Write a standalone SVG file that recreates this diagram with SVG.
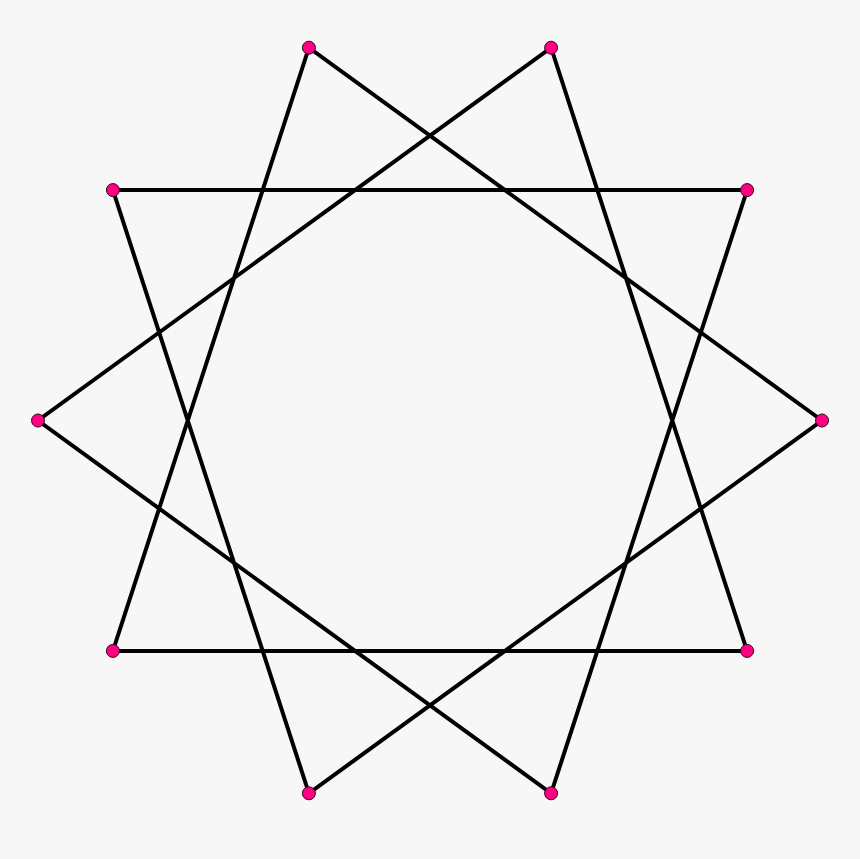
<svg xmlns="http://www.w3.org/2000/svg" width="860" height="859" viewBox="0 0 860 859">
<style>
.edge{fill:none;stroke:#000;stroke-width:4;stroke-linejoin:miter}
.v{fill:#ff0080;stroke:#3a0020;stroke-width:1}
</style>
<rect width="860" height="859" fill="#f7f7f7"/>
<g id="connectors">
<polygon class="edge" points="822,420.5 308.9,47.7 112.9,650.9 747.1,650.9 551.1,47.7 38,420.5 551.1,793.3 747.1,190.1 112.9,190.1 308.9,793.3"/>
</g>
<g id="v0"><circle class="v" cx="822" cy="420.5" r="6.5"/></g>
<g id="v1"><circle class="v" cx="747.1" cy="190.1" r="6.5"/></g>
<g id="v2"><circle class="v" cx="551.1" cy="47.7" r="6.5"/></g>
<g id="v3"><circle class="v" cx="308.9" cy="47.7" r="6.5"/></g>
<g id="v4"><circle class="v" cx="112.9" cy="190.1" r="6.5"/></g>
<g id="v5"><circle class="v" cx="38" cy="420.5" r="6.5"/></g>
<g id="v6"><circle class="v" cx="112.9" cy="650.9" r="6.5"/></g>
<g id="v7"><circle class="v" cx="308.9" cy="793.3" r="6.5"/></g>
<g id="v8"><circle class="v" cx="551.1" cy="793.3" r="6.5"/></g>
<g id="v9"><circle class="v" cx="747.1" cy="650.9" r="6.5"/></g>
</svg>
